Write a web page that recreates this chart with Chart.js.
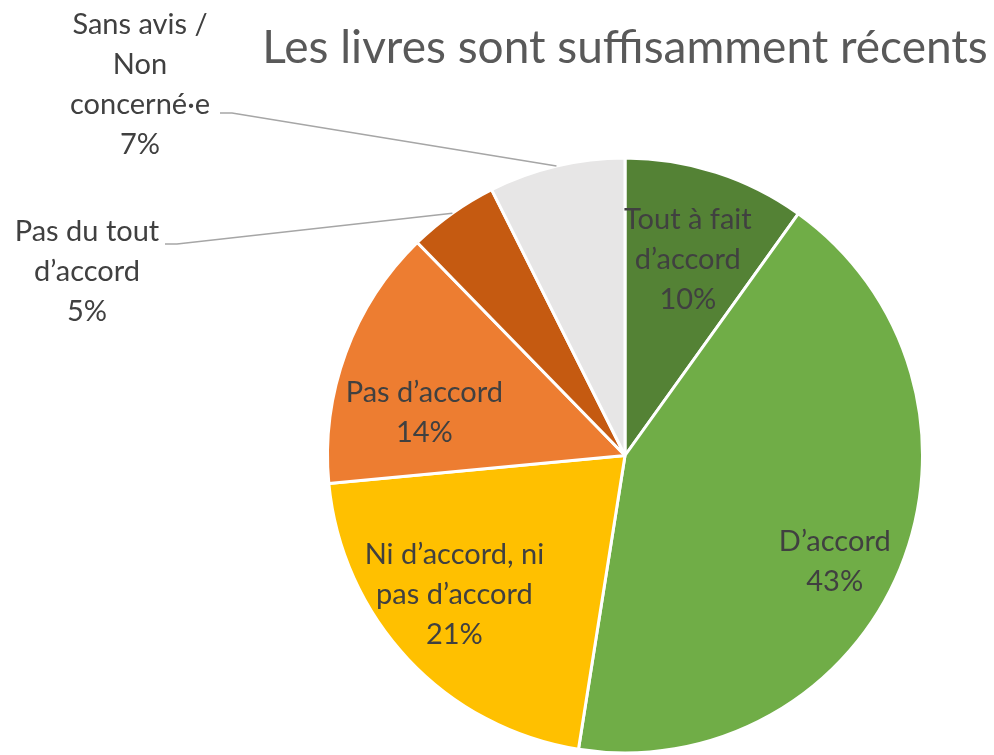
<!DOCTYPE html>
<html>
<head>
<meta charset="utf-8">
<script src="https://cdn.jsdelivr.net/npm/chart.js@4/dist/chart.umd.min.js"></script>
<style>
  html, body { margin: 0; padding: 0; background: #fff; }
  #wrap { width: 994px; height: 755px; }
</style>
</head>
<body>
<div id="wrap"><canvas id="chart" width="994" height="755"></canvas></div>
<script>
const title = "Les livres sont suffisamment récents";
const categories = [
    ["Tout à fait", "d’accord"],
    ["D’accord"],
    ["Ni d’accord, ni", "pas d’accord"],
    ["Pas d’accord"],
    ["Pas du tout", "d’accord"],
    ["Sans avis /", "Non", "concerné·e"]
];
const shares = [9.9, 42.6, 21.0, 14.2, 4.9, 7.4];
const colors = ["#548235", "#70AD47", "#FFC000", "#ED7D31", "#C55A11", "#E7E6E6"];

const FONT = "Lato, 'Open Sans', sans-serif";
const TEXT = "#404040";

// title centred over the pie (wider than the chart area, so drawn here)
const titlePlugin = {
    id: "pieTitle",
    afterDraw(chart, args, opts) {
        const ctx = chart.ctx;
        const arc = chart.getDatasetMeta(0).data[0];
        ctx.save();
        ctx.font = `${opts.size}px ${FONT}`;
        ctx.fillStyle = "#595959";
        ctx.textAlign = "center";
        ctx.textBaseline = "middle";
        ctx.fillText(title, arc.x, opts.y);
        ctx.restore();
    }
};

// inside labels: radial factor + angle shift per slice, outside labels: text anchor + elbow
const labelPlugin = {
    id: "sliceLabels",
    afterDatasetsDraw(chart, args, opts) {
        const ctx = chart.ctx;
        const meta = chart.getDatasetMeta(0);
        const total = shares.reduce((a, b) => a + b, 0);
        ctx.save();
        ctx.font = `${opts.size}px ${FONT}`;
        ctx.fillStyle = TEXT;
        ctx.textAlign = "center";
        ctx.textBaseline = "middle";
        meta.data.forEach((arc, i) => {
            const p = arc.getProps(["x", "y", "startAngle", "endAngle", "outerRadius"], true);
            const mid = (p.startAngle + p.endAngle) / 2;
            const lines = categories[i].concat([Math.round(shares[i] / total * 100) + "%"]);
            const out = opts.outside[i];
            let cx, cy;
            if (out) {
                const ex = p.x + Math.cos(mid) * p.outerRadius;
                const ey = p.y + Math.sin(mid) * p.outerRadius;
                ctx.strokeStyle = "#A6A6A6";
                ctx.lineWidth = 1.5;
                ctx.beginPath();
                ctx.moveTo(out.lx, out.ly);
                ctx.lineTo(out.lx + 12, out.ly);
                ctx.lineTo(ex, ey);
                ctx.stroke();
                cx = out.x;
                cy = out.y;
            } else {
                const a = mid + opts.shift[i] * Math.PI / 180;
                const r = p.outerRadius * opts.radial[i];
                cx = p.x + Math.cos(a) * r;
                cy = p.y + Math.sin(a) * r - (lines.length - 1) * opts.lineHeight / 2;
            }
            lines.forEach((t, k) => ctx.fillText(t, cx, cy + k * opts.lineHeight));
        });
        ctx.restore();
    }
};

new Chart(document.getElementById("chart"), {
    type: "pie",
    data: {
        labels: categories,
        datasets: [{
            data: shares,
            backgroundColor: colors,
            borderColor: "#ffffff",
            borderWidth: 3
        }]
    },
    options: {
        responsive: false,
        animation: false,
        layout: { padding: { left: 326, right: 70, top: 156, bottom: 0 } },
        plugins: {
            legend: { display: false },
            tooltip: { enabled: false },
            title: { display: false },
            pieTitle: { size: 46, y: 48 },
            sliceLabels: {
                size: 29,
                lineHeight: 40,
                radial: [0.69, 0.79, 0.74, 0.69],
                shift: [0, 4.5, 4, -8],
                outside: {
                    4: { x: 87, y: 232, lx: 165, ly: 244 },
                    5: { x: 140, y: 25, lx: 220, ly: 113 }
                }
            }
        }
    },
    plugins: [labelPlugin, titlePlugin]
});
</script>
</body>
</html>
